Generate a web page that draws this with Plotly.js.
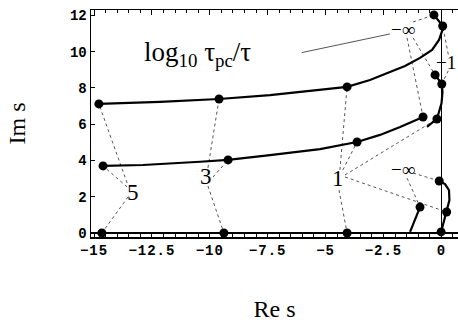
<!DOCTYPE html>
<html><head><meta charset="utf-8">
<script src="https://cdn.plot.ly/plotly-3.0.1.min.js"></script>
<style>body{margin:0;overflow:hidden;background:#fff}#c{width:458px;height:322px}
.xtick text{letter-spacing:1px}</style>
</head><body><div id="c"></div>
<script>
// Root-locus branches (Re s, Im s)
const branchA_x = [-14.79, -12.15, -9.60, -7.40, -4.07, -3.08, -2.22, -1.57, -0.92, -0.40, -0.10, 0.05, 0.06, -0.32];
const branchA_y = [7.12, 7.23, 7.39, 7.61, 8.06, 8.44, 8.88, 9.21, 9.66, 10.10, 10.65, 11.20, 11.42, 12.03];
const branchB_x = [-14.61, -12.89, -10.42, -9.21, -7.40, -5.24, -3.64, -2.65, -1.78, -1.22, -0.79];
const branchB_y = [3.70, 3.75, 3.93, 4.03, 4.30, 4.63, 5.02, 5.41, 5.85, 6.18, 6.40];
const branchC_x = [-0.62, -0.19, 0.01, 0.05, 0.02, -0.27];
const branchC_y = [5.85, 6.29, 7.17, 7.78, 8.22, 8.72];
const branchD_x = [-0.01, 0.10, 0.23, 0.35, 0.33, 0.16, -0.09];
const branchD_y = [0.06, 0.61, 1.16, 1.82, 2.37, 2.70, 2.87];
const branchE_x = [-1.35, -0.92];
const branchE_y = [0.06, 1.43];
const branchF_x = [-15.13, -14.66, -9.39, -4.07, 0];
const branchF_y = [0, 0, 0, 0, 0];

// marked points (log10 tau_pc/tau = 5, 3, 1, -1, -inf)
const markX = [-14.79, -9.60, -4.07, 0.06, -0.32,
               -14.61, -9.21, -3.64, -0.79,
               -0.19, 0.02, -0.27,
               -0.01, 0.23, -0.09,
               -0.92,
               -14.66, -9.39, -4.07];
const markY = [7.12, 7.39, 8.06, 11.42, 12.03,
               3.70, 4.03, 5.02, 6.40,
               6.29, 8.22, 8.72,
               0.06, 1.16, 2.87,
               1.43,
               0, 0, 0];

// parameter labels
const labelText = ['5', '3', '1', '\u2212\u221e', '\u2212\u221e', '\u22121'];
const labelX = [-13.31, -10.16, -4.46, -1.66, -1.66, 0.70];
const labelY = [2.26, 3.09, 3.03, 11.2, 3.48, 9.38];
const labelSize = [23, 23, 23, 19, 19, 19];
const labelAnchor = ['center', 'center', 'center', 'center', 'center', 'right'];

// dotted leaders: from label to marked point
const connFromX = [-13.57, -13.57, -13.53, -10.08, -9.86, -10.08, -4.38, -4.25, -4.16, -4.16, -4.42, -1.22, -1.48, -1.22, -1.22, -1.48, 0.30, 0.30];
const connFromY = [2.76, 2.54, 1.99, 3.59, 3.09, 2.59, 3.48, 3.48, 3.20, 3.09, 2.37, 11.64, 10.76, 10.76, 3.31, 3.03, 9.85, 8.95];
const connToX = [-14.79, -14.61, -14.66, -9.60, -9.21, -9.39, -4.07, -3.64, -0.19, 0.23, -4.07, -0.32, -0.79, -0.27, -0.09, -0.92, 0.06, 0.02];
const connToY = [7.12, 3.70, 0, 7.39, 4.03, 0, 8.06, 5.02, 6.29, 1.16, 0, 12.03, 6.40, 8.72, 2.87, 1.43, 11.42, 8.22];

// solid leader from title to upper -inf label
const leadX = [-6.03, -2.22];
const leadY = [9.95, 10.98];

const xTicks = [-15, -12.5, -10, -7.5, -5, -2.5, 0];
const xTickText = ['\u221215', '\u221212.5', '\u221210', '\u22127.5', '\u22125', '\u22122.5', '0'];
const yTicks = [0, 2, 4, 6, 8, 10, 12];

const cx = [], cy = [];
for (let i = 0; i < connFromX.length; i++) {
  cx.push(connFromX[i], connToX[i], null);
  cy.push(connFromY[i], connToY[i], null);
}

const curve = (x, y) => ({x, y, type: 'scatter', mode: 'lines', line: {color: '#000', width: 2.2}, hoverinfo: 'skip'});
const traces = [
  {x: cx, y: cy, type: 'scatter', mode: 'lines', line: {color: '#555', width: 1, dash: 'dot'}},
  {x: leadX, y: leadY, type: 'scatter', mode: 'lines', line: {color: '#555', width: 1}},
  curve(branchF_x, branchF_y),
  curve(branchA_x, branchA_y),
  curve(branchB_x, branchB_y),
  curve(branchC_x, branchC_y),
  curve(branchD_x, branchD_y),
  curve(branchE_x, branchE_y),
  {x: markX, y: markY, type: 'scatter', mode: 'markers', marker: {color: '#000', size: 9, symbol: 'circle'}},
];

const serif = 'Liberation Serif, Times New Roman, serif';
const annotations = labelText.map((t, i) => ({
  x: labelX[i], y: labelY[i], text: t, showarrow: false, xanchor: labelAnchor[i], yanchor: 'middle',
  font: {family: serif, size: labelSize[i], color: '#000'}
}));
annotations.push({x: -10.55, y: 9.9, text: 'log<sub>10</sub> \u03c4<sub>pc</sub>/\u03c4', showarrow: false,
  xanchor: 'center', yanchor: 'middle', font: {family: serif, size: 27, color: '#000'}});

const monoFont = {family: 'Liberation Mono, Courier New, monospace', size: 14, color: '#000', weight: 'bold'};
const layout = {
  width: 458, height: 322,
  margin: {l: 91, r: 0, t: 10, b: 85},
  paper_bgcolor: '#fff', plot_bgcolor: '#fff',
  showlegend: false,
  xaxis: {
    range: [-15.13, 0.72], tickvals: xTicks, ticktext: xTickText,
    ticks: 'inside', ticklen: 5, tickcolor: '#000', tickwidth: 1,
    minor: {dtick: 0.5, tick0: 0, ticks: 'inside', ticklen: 3, tickcolor: '#000', showgrid: false},
    showline: true, linecolor: '#000', linewidth: 1.5, mirror: 'ticks',
    showgrid: false, zeroline: true, zerolinecolor: '#000', zerolinewidth: 1.5,
    tickfont: monoFont,
    title: {text: 'Re s', font: {family: serif, size: 24, color: '#000'}, standoff: 47}
  },
  yaxis: {
    range: [-0.22, 12.30], tickvals: yTicks,
    ticks: 'inside', ticklen: 4, tickcolor: '#000',
    showline: true, linecolor: '#000', linewidth: 1.5, mirror: false,
    showgrid: false, zeroline: true, zerolinecolor: '#000', zerolinewidth: 1.5,
    tickfont: monoFont,
    title: {text: 'Im s', font: {family: serif, size: 24, color: '#000'}, standoff: 37}
  },
  annotations
};
Plotly.newPlot('c', traces, layout, {staticPlot: true, displayModeBar: false});
</script></body></html>
